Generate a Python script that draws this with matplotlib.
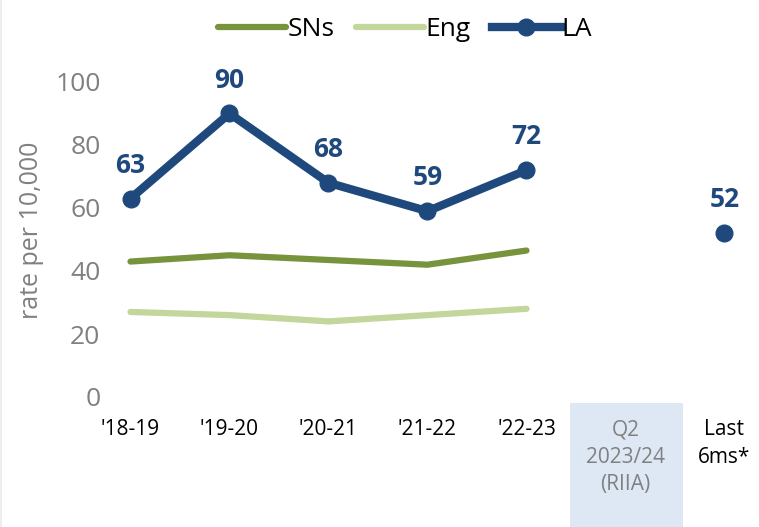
import numpy as np
import matplotlib
matplotlib.use('Agg')
import matplotlib.pyplot as plt
from matplotlib.patches import Rectangle

plt.rcParams['font.family'] = ['Open Sans', 'DejaVu Sans']

# data
categories = ["'18-19", "'19-20", "'20-21", "'21-22", "'22-23", "Q2\n2023/24\n(RIIA)", "Last\n6ms*"]
sns_vals = [43, 45, 43.5, 42, 46.5]
eng_vals = [27, 26, 24, 26, 28]
la_vals = [63, 90, 68, 59, 72]
la_last = 52

c_sns = '#77933C'
c_eng = '#C3D69B'
c_la = '#1F497D'
c_grey = '#808080'

fig = plt.figure(figsize=(7.59, 5.27), dpi=100)
ax = fig.add_axes([81/759, 130/527, 693/759, 315/527])

x = np.arange(len(sns_vals))
ax.plot(x, sns_vals, color=c_sns, lw=4.5, solid_capstyle='round', solid_joinstyle='round', label='SNs')
ax.plot(x, eng_vals, color=c_eng, lw=4.5, solid_capstyle='round', solid_joinstyle='round', label='Eng')
ax.plot(x, la_vals, color=c_la, lw=6, marker='o', ms=12, solid_joinstyle='round', label='LA')
ax.plot([6], [la_last], color=c_la, marker='o', ms=12, ls='none')

for xi, v in zip(list(x) + [6], la_vals + [la_last]):
    ax.annotate(str(v), (xi, v), xytext=(0, 24), textcoords='offset points',
                ha='center', va='center', fontsize=19, fontweight='bold',
                color=c_la, clip_on=False)

ax.set_xlim(-0.5, 6.5)
ax.set_ylim(0, 100)
ax.set_yticks([0, 20, 40, 60, 80, 100])
ax.tick_params(axis='y', labelsize=19, labelcolor=c_grey, length=0, pad=-14)
ax.set_xticks(range(len(categories)))
ax.set_xticklabels(categories, fontsize=15, va='top', linespacing=1.4)
ax.tick_params(axis='x', length=0, pad=16)
ax.get_xticklabels()[5].set_color(c_grey)
ax.set_ylabel('rate per 10,000', fontsize=18, color=c_grey)
ax.yaxis.set_label_coords(-0.053, 0.53)

for s in ax.spines.values():
    s.set_visible(False)

# highlight box behind the Q2 label
fig.patches.append(Rectangle((570/759, 0), 113/759, 124/527, transform=fig.transFigure,
                             facecolor='#DEE8F5', edgecolor='none', zorder=-1))
# faint frame edge on the left
fig.patches.append(Rectangle((0, 0), 2/759, 1, transform=fig.transFigure,
                             facecolor='#EEEEEE', edgecolor='none', zorder=-1))

leg = ax.legend(loc='center', bbox_to_anchor=(405/759, 1 - 30/527), bbox_transform=fig.transFigure,
                ncol=3, frameon=False, fontsize=19, handlelength=2.6, handletextpad=0.05,
                columnspacing=0.8)

fig.savefig('out.png', dpi=100)
